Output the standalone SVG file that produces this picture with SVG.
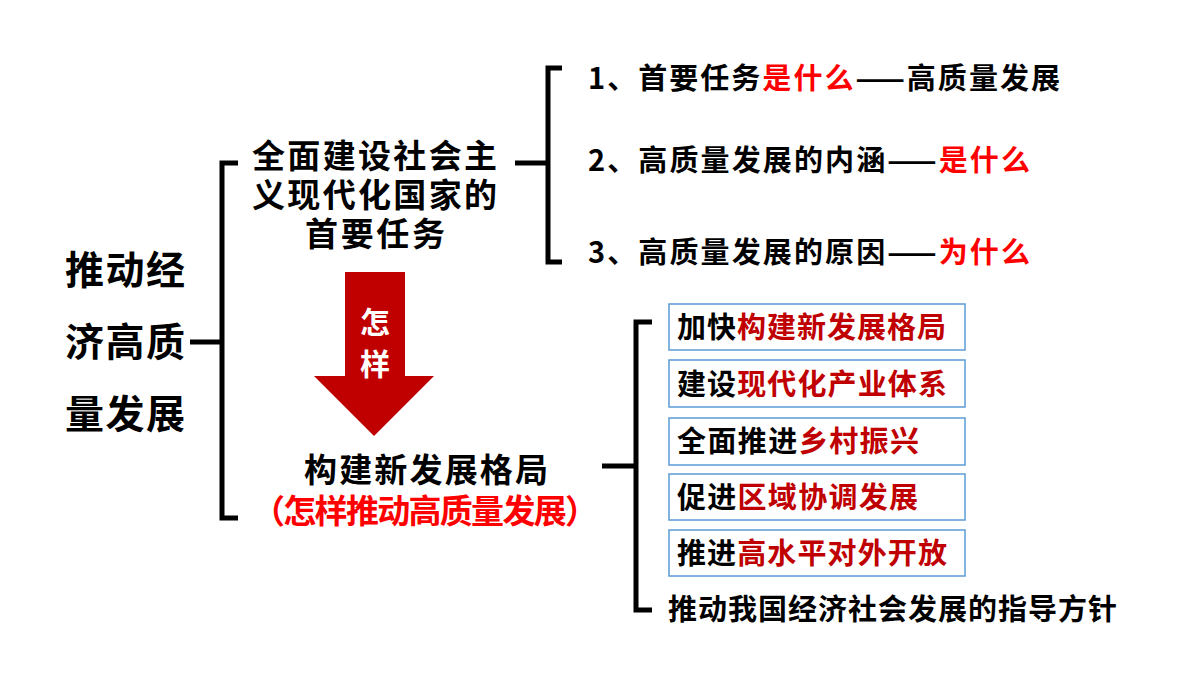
<svg xmlns="http://www.w3.org/2000/svg" width="1200" height="675" viewBox="0 0 1200 675">
<style>
text{font-family:"Noto Sans CJK SC","Noto Sans",sans-serif;font-weight:bold;fill:#000}
.r{fill:#FF0000}.d{fill:#C00000}
.ln{stroke:#000;stroke-width:5;fill:none}
.bx{fill:#fff;stroke:#5B9BD5;stroke-width:1.5}
.t{font-size:29px}
</style>
<rect width="1200" height="675" fill="#fff"/>
<g id="connectors">
<path class="ln" d="M190 342H222M238 163H222V518H238"/>
<path class="ln" d="M515 163H548M562 68H548V262H562"/>
<path class="ln" d="M602 466H636M652 322H636V610H652"/>
</g>
<g id="root"><text font-size="39" x="65" y="284" textLength="120">推动经</text><text font-size="39" x="65" y="356" textLength="120">济高质</text><text font-size="39" x="65" y="428" textLength="120">量发展</text></g>
<g id="task"><text x="252" y="168" font-size="33" textLength="245">全面建设社会主</text><text x="252" y="207" font-size="33" textLength="245">义现代化国家的</text><text x="305" y="246" font-size="33" textLength="140">首要任务</text></g>
<g id="arrow"><path d="M345 272H405V376H434L374 436L314 376H345Z" fill="#C00000"/><text x="375" y="333" font-size="30" text-anchor="middle" style="fill:#fff">怎</text><text x="375" y="375" font-size="30" text-anchor="middle" style="fill:#fff">样</text></g>
<g id="pattern"><text x="304" y="482" font-size="33" textLength="244">构建新发展格局</text><text x="252" y="523" font-size="33" class="r" textLength="346">（怎样推动高质量发展）</text></g>
<g id="q1"><text class="t" x="588" y="89" textLength="472">1、首要任务<tspan class="r">是什么</tspan>——高质量发展</text></g>
<g id="q2"><text class="t" x="588" y="171" textLength="442">2、高质量发展的内涵——<tspan class="r">是什么</tspan></text></g>
<g id="q3"><text class="t" x="588" y="263" textLength="442">3、高质量发展的原因——<tspan class="r">为什么</tspan></text></g>
<g id="b1"><rect class="bx" x="669" y="304" width="296" height="46"/><text class="t" x="677" y="338" textLength="269">加快<tspan class="d">构建新发展格局</tspan></text></g>
<g id="b2"><rect class="bx" x="669" y="360" width="296" height="47"/><text class="t" x="677" y="395" textLength="270">建设<tspan class="d">现代化产业体系</tspan></text></g>
<g id="b3"><rect class="bx" x="669" y="418" width="296" height="47"/><text class="t" x="677" y="452" textLength="242">全面推进<tspan class="d">乡村振兴</tspan></text></g>
<g id="b4"><rect class="bx" x="669" y="474" width="296" height="46"/><text class="t" x="677" y="508" textLength="241">促进<tspan class="d">区域协调发展</tspan></text></g>
<g id="b5"><rect class="bx" x="669" y="530" width="296" height="46"/><text class="t" x="677" y="564" textLength="270">推进<tspan class="d">高水平对外开放</tspan></text></g>
<g id="guide"><text class="t" x="668" y="620" textLength="449">推动我国经济社会发展的指导方针</text></g>
</svg>
